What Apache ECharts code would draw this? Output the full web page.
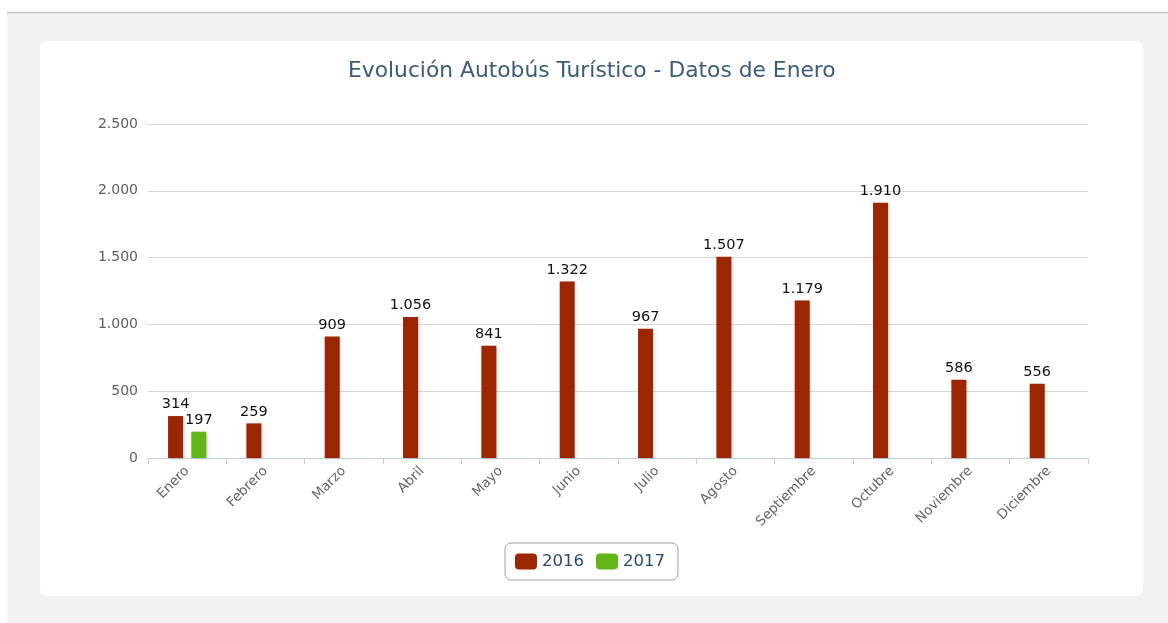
<!DOCTYPE html>
<html>
<head>
<meta charset="utf-8">
<script src="https://cdn.jsdelivr.net/npm/echarts@6/dist/echarts.min.js"></script>
<style>
html,body{margin:0;padding:0;background:#fff;}
#c{width:1168px;height:623px;}
</style>
</head>
<body>
<div id="c"></div>
<script>
var categories = ['Enero','Febrero','Marzo','Abril','Mayo','Junio','Julio','Agosto','Septiembre','Octubre','Noviembre','Diciembre'];
var values2016 = [314,259,909,1056,841,1322,967,1507,1179,1910,586,556];
var values2017 = [197,null,null,null,null,null,null,null,null,null,null,null];
var yTicks = [0,500,1000,1500,2000,2500];

function fmt(v){
  return String(v).replace(/\B(?=(\d{3})+(?!\d))/g,'.');
}
var FONT = '"DejaVu Sans", Verdana, sans-serif';
var chart = echarts.init(document.getElementById('c'));
var shadow = {shadowColor:'rgba(0,0,0,0.18)',shadowBlur:3,shadowOffsetX:1.5,shadowOffsetY:1};
chart.setOption({
  animation:false,
  textStyle:{fontFamily:FONT},
  graphic:[
    {type:'rect',z:-10,shape:{x:7,y:12,width:1161,height:611},style:{fill:'#f2f2f2'}},
    {type:'line',z:-9,shape:{x1:7,y1:12.5,x2:1168,y2:12.5},style:{stroke:'#c6c6c6',lineWidth:1.5}},
    {type:'rect',z:-8,shape:{x:40,y:41,width:1103,height:555,r:7},style:{fill:'#ffffff'}}
  ],
  title:{
    text:'Evolución Autobús Turístico - Datos de Enero',
    left:343, top:55,
    textStyle:{color:'#3e5b78',fontSize:21.8,fontWeight:'normal',fontFamily:FONT}
  },
  legend:{
    data:['2016','2017'],
    left:505, top:543,
    padding:[10,13,10,10],
    borderColor:'#a0a0a0', borderWidth:1, borderRadius:6,
    itemWidth:22, itemHeight:16, itemGap:12,
    icon:'roundRect',
    textStyle:{color:'#274b6d',fontSize:16.5,fontFamily:FONT}
  },
  grid:{left:148,right:80,top:124,bottom:165,containLabel:false},
  xAxis:{
    type:'category',
    data:categories,
    axisLine:{lineStyle:{color:'#c0d0e0',width:1}},
    axisTick:{show:true,alignWithLabel:false,length:6,lineStyle:{color:'#c0d0e0'}},
    axisLabel:{rotate:45,color:'#666666',fontSize:13.5,margin:11,fontFamily:FONT,interval:0}
  },
  yAxis:{
    type:'value',min:0,max:2500,interval:500,
    axisLine:{show:false},axisTick:{show:false},
    splitLine:{lineStyle:{color:'#d8d8d8',width:1}},
    axisLabel:{color:'#606060',fontSize:14,margin:10,fontFamily:FONT,formatter:function(v){return fmt(v);}}
  },
  series:[
    {name:'2016',type:'bar',data:values2016,barWidth:15,barGap:'55%',
      itemStyle:Object.assign({color:'#9c2600'},shadow),
      label:{show:true,position:'top',distance:4,color:'#111',fontSize:14.5,fontFamily:FONT,formatter:function(p){return fmt(p.value);}}},
    {name:'2017',type:'bar',data:values2017,barWidth:15,barGap:'55%',
      itemStyle:Object.assign({color:'#62b516'},shadow),
      label:{show:true,position:'top',distance:4,color:'#111',fontSize:14.5,fontFamily:FONT,formatter:function(p){return fmt(p.value);}}}
  ]
});
</script>
</body>
</html>
